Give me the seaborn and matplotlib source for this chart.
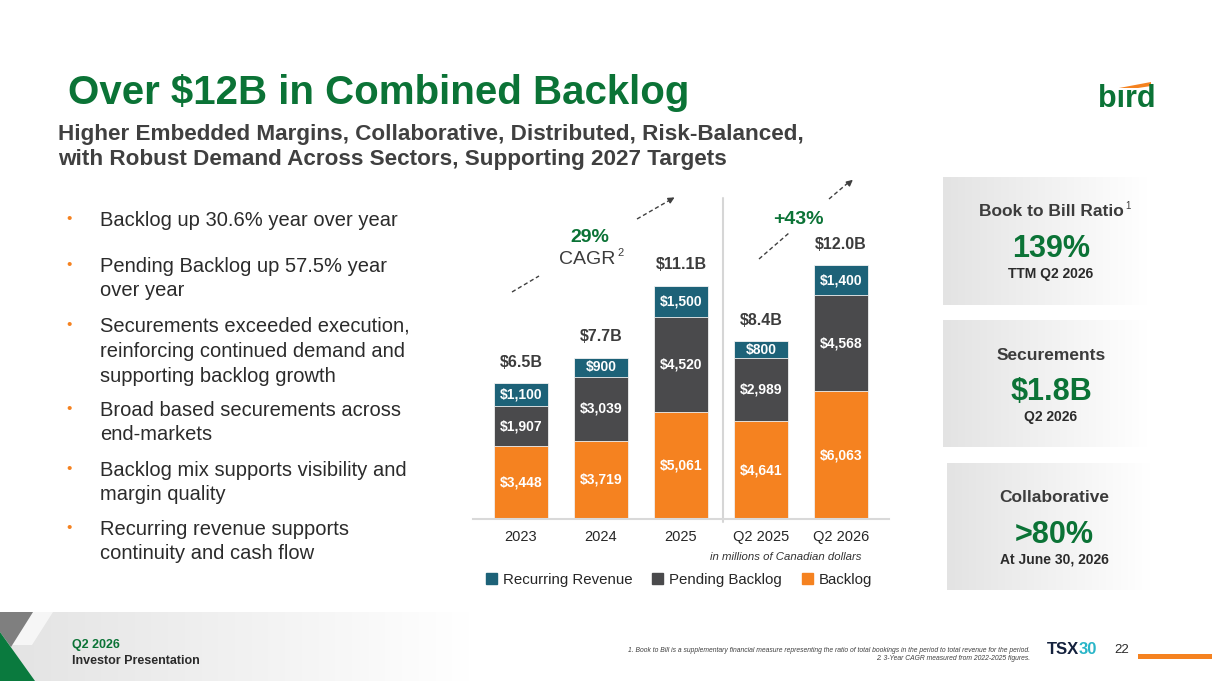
import numpy as np
import pandas as pd
import matplotlib.pyplot as plt
import seaborn as sns
from matplotlib.colors import LinearSegmentedColormap
from matplotlib.patches import Polygon, Rectangle

# -----------------------------
# Data
# -----------------------------
periods = ["2023", "2024", "2025", "Q2 2025", "Q2 2026"]
backlog = [3448, 3719, 5061, 4641, 6063]
pending = [1907, 3039, 4520, 2989, 4568]
recurring = [1100, 900, 1500, 800, 1400]
total_labels = ["$6.5B", "$7.7B", "$11.1B", "$8.4B", "$12.0B"]
series_names = ["Recurring Revenue", "Pending Backlog", "Backlog"]

bullets = [
    ["Backlog up 30.6% year over year"],
    ["Pending Backlog up 57.5% year", "over year"],
    ["Securements exceeded execution,", "reinforcing continued demand and",
     "supporting backlog growth"],
    ["Broad based securements across", "end-markets"],
    ["Backlog mix supports visibility and", "margin quality"],
    ["Recurring revenue supports", "continuity and cash flow"],
]

kpi_titles = ["Book to Bill Ratio", "Securements", "Collaborative"]
kpi_values = ["139%", "$1.8B", ">80%"]
kpi_notes = ["TTM Q2 2026", "Q2 2026", "At June 30, 2026"]

footnotes = [
    "1. Book to Bill is a supplementary financial measure representing the ratio "
    "of total bookings in the period to total revenue for the period.",
    "2. 3-Year CAGR measured from 2022-2025 figures.",
]

# -----------------------------
# Style
# -----------------------------
ORANGE = "#F58220"
DARK = "#4A4A4C"
TEAL = "#1D6278"
GREEN = "#0B7336"
TXT = "#2B2B2B"
GREYTXT = "#3C3C3C"

sns.set_style("white")
plt.rcParams["font.family"] = ["Liberation Sans", "DejaVu Sans"]

W, H = 1212, 681
fig = plt.figure(figsize=(W / 100, H / 100), dpi=100)

# background layer in pixel coordinates
bg = fig.add_axes([0, 0, 1, 1])
bg.axis("off")

fade = LinearSegmentedColormap.from_list("fade", ["#E3E3E3", "#FFFFFF"])
ramp = np.linspace(0, 1, 256).reshape(1, -1)


def gradient_box(x0, x1, y0, y1, clip=None):
    im = bg.imshow(ramp, cmap=fade, extent=(x0, x1, y1, y0), aspect="auto",
                   interpolation="bilinear", zorder=0)
    if clip is not None:
        patch = Polygon(clip, closed=True, transform=bg.transData)
        im.set_clip_path(patch)


# -----------------------------
# Header
# -----------------------------
bg.text(68, 104, "Over $12B in Combined Backlog", fontsize=29, fontweight="bold",
        color=GREEN, va="baseline")
bg.text(58, 140, "Higher Embedded Margins, Collaborative, Distributed, Risk-Balanced,",
        fontsize=16.2, fontweight="bold", color="#404040", va="baseline")
bg.text(58, 165, "with Robust Demand Across Sectors, Supporting 2027 Targets",
        fontsize=16.2, fontweight="bold", color="#404040", va="baseline")

# bird logo
bg.text(1127, 107, "b\u0131rd", fontsize=22, fontweight="bold", color=GREEN,
        ha="center", va="baseline")
bg.add_patch(Polygon([(1119, 88), (1151, 82), (1151, 86), (1138, 88)],
                     closed=True, color=ORANGE, lw=0))

# -----------------------------
# Bullets
# -----------------------------
baselines = [[226], [272, 296], [332, 357, 382], [416, 440], [476, 500], [535, 559]]
for lines, ys in zip(bullets, baselines):
    bg.text(69, ys[0] - 7, "\u2022", fontsize=11, color=ORANGE, ha="center", va="center")
    for line, y in zip(lines, ys):
        bg.text(100, y, line, fontsize=14.5, color=TXT, va="baseline")

# -----------------------------
# KPI panels
# -----------------------------
panels = [(943, 1147, 177, 305), (943, 1147, 320, 447), (947, 1150, 463, 590)]
for (x0, x1, y0, y1), t, v, n in zip(panels, kpi_titles, kpi_values, kpi_notes):
    gradient_box(x0, x1, y0, y1)
    cx = (x0 + x1) / 2 + 6
    bg.text(cx, y0 + 35, t, fontsize=12.5, fontweight="bold", color=GREYTXT,
            ha="center", va="center")
    bg.text(cx, y0 + 72, v, fontsize=22, fontweight="bold", color=GREEN,
            ha="center", va="center")
    bg.text(cx, y0 + 97, n, fontsize=10, fontweight="bold", color=TXT,
            ha="center", va="center")
bg.text(1125, 206, "1", fontsize=7, color=GREYTXT, va="center")

# -----------------------------
# Footer
# -----------------------------
gradient_box(0, 470, 612, 681, clip=[(0, 612), (470, 612), (470, 681), (0, 681)])
bg.add_patch(Polygon([(33, 612), (53, 612), (32, 645), (12, 645)], closed=True,
                     color="#F6F6F6", lw=0, zorder=1))
bg.add_patch(Polygon([(0, 612), (33, 612), (11, 647), (0, 632)], closed=True,
                     color="#7F7F7F", lw=0, zorder=1))
bg.add_patch(Polygon([(0, 632), (35, 681), (0, 681)], closed=True,
                     color="#0A7A3E", lw=0, zorder=2))
bg.text(72, 645, "Q2 2026", fontsize=9, fontweight="bold", color=GREEN, va="center")
bg.text(72, 661, "Investor Presentation", fontsize=9, fontweight="bold", color=TXT,
        va="center")
bg.text(1030, 651, footnotes[0], fontsize=4.9, style="italic", color="#404040",
        ha="right", va="center")
bg.text(1030, 659, footnotes[1], fontsize=4.9, style="italic", color="#404040",
        ha="right", va="center")
bg.text(1047, 650, "TSX", fontsize=12, fontweight="bold", color="#14213D", va="center")
bg.text(1079, 650, "30", fontsize=12, fontweight="bold", color="#29B5C8", va="center")
bg.text(1114, 650, "22", fontsize=9.5, color=TXT, va="center")
bg.add_patch(Rectangle((1138, 654), 74, 5, color=ORANGE, lw=0))

# -----------------------------
# Growth arrows and separator
# -----------------------------
dash = dict(color="#404040", lw=1, ls=(0, (3, 2)))
arrow = dict(arrowstyle="-|>", color="#404040", lw=1, mutation_scale=9)
bg.plot([512, 539], [292, 276], **dash)
bg.plot([637, 670], [219, 200], **dash)
bg.annotate("", xy=(677, 196), xytext=(669, 200.6), arrowprops=arrow)
bg.plot([759, 789], [259, 233], **dash)
bg.plot([829, 849], [199, 182], **dash)
bg.annotate("", xy=(855, 178), xytext=(848, 183.9), arrowprops=arrow)

bg.text(590, 238, "29%", fontsize=14, fontweight="bold", color=GREEN, ha="center",
        va="center")
bg.text(587, 260, "CAGR", fontsize=14, color=GREYTXT, ha="center", va="center")
bg.text(617, 253, "2", fontsize=8, color=GREYTXT, va="center")
bg.text(798, 219, "+43%", fontsize=14, fontweight="bold", color=GREEN, ha="center",
        va="center")

bg.plot([723, 723], [198, 522], color="#D6D6D6", lw=1.5)
bg.text(862, 557, "in millions of Canadian dollars", fontsize=8.2, style="italic",
        color="#333333", ha="right", va="center")

bg.set_xlim(0, W)
bg.set_ylim(H, 0)

# -----------------------------
# Stacked bar chart
# -----------------------------
df = pd.DataFrame({"period": periods, "backlog": backlog,
                   "pending": pending, "recurring": recurring})
df["mid"] = df["backlog"] + df["pending"]
df["top"] = df["mid"] + df["recurring"]

ax = fig.add_axes([473 / W, (H - 519) / H, 416 / W, 295 / H])
ax.patch.set_alpha(0)
for col, color in [("top", TEAL), ("mid", DARK), ("backlog", ORANGE)]:
    sns.barplot(data=df, x="period", y=col, color=color, saturation=1, width=0.675,
                edgecolor="#F2F2F2", linewidth=0.6, ax=ax)

for i in range(len(periods)):
    segs = [(0, backlog[i]), (backlog[i], pending[i]),
            (backlog[i] + pending[i], recurring[i])]
    for base, v in segs:
        ax.text(i, base + v / 2, f"${v:,}", ha="center", va="center",
                color="white", fontsize=10, fontweight="bold")
    ax.annotate(total_labels[i], (i, df["top"][i]), xytext=(0, 15),
                textcoords="offset points", ha="center", va="center",
                fontsize=11.5, fontweight="bold", color=GREYTXT)

ax.set_xlim(-0.6, 4.6)
ax.set_ylim(0, 14000)
ax.set_xlabel("")
ax.set_ylabel("")
ax.set_yticks([])
sns.despine(ax=ax, left=True)
ax.spines["bottom"].set_color("#D9D9D9")
ax.spines["bottom"].set_linewidth(1.5)
ax.tick_params(axis="x", length=0, pad=8, labelsize=10.5, labelcolor="#262626")

handles = [Rectangle((0, 0), 1, 1, color=c) for c in [TEAL, DARK, ORANGE]]
fig.legend(handles, series_names, loc="center", bbox_to_anchor=(679 / W, 1 - 580 / H),
           ncol=3, frameon=False, fontsize=10.8, handlelength=0.75, handleheight=0.75,
           handletextpad=0.4, columnspacing=1.3, labelcolor="#262626")

fig.savefig("out.png", dpi=100)
